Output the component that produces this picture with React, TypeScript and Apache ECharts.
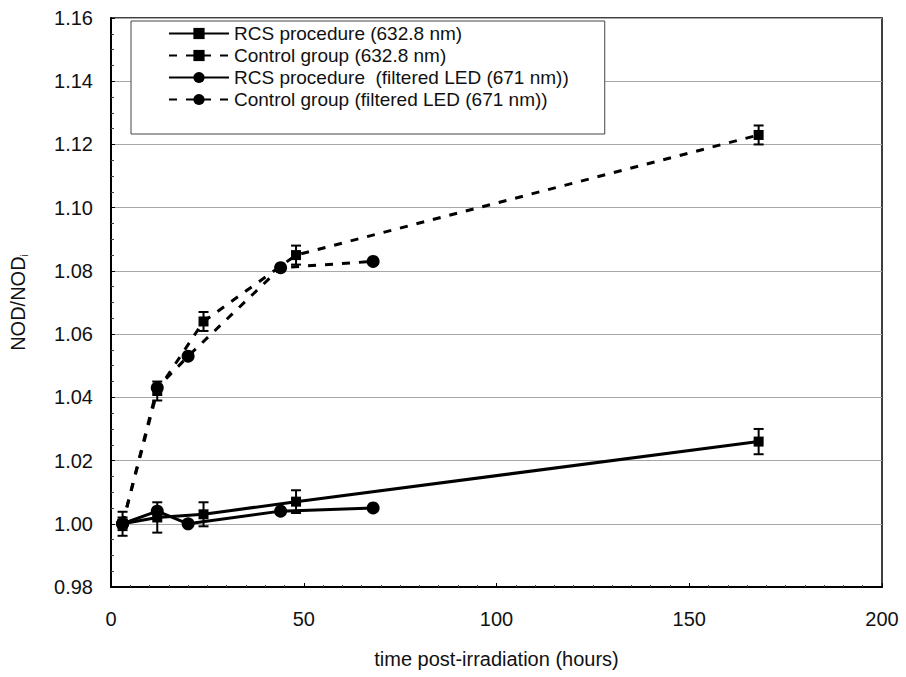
import React, { useEffect, useRef } from "react";
import * as echarts from "echarts";

// ---- data ----
const hours632 = [3, 12, 24, 48, 168];
const rcs632 = [1.0, 1.002, 1.003, 1.007, 1.026];
const rcs632Err = [0.0038, 0.0048, 0.0038, 0.0036, 0.004];
const ctrl632 = [1.0, 1.042, 1.064, 1.085, 1.123];
const ctrl632Err = [0.002, 0.003, 0.003, 0.003, 0.003];

const hoursLED = [3, 12, 20, 44, 68];
const rcsLED = [1.0, 1.004, 1.0, 1.004, 1.005];
const ctrlLED = [1.0, 1.043, 1.053, 1.081, 1.083];

const seriesNames = [
  "RCS procedure (632.8 nm)",
  "Control group (632.8 nm)",
  "RCS procedure  (filtered LED (671 nm))",
  "Control group (filtered LED (671 nm))",
];

const xTicks = { min: 0, max: 200, interval: 50 };
const yTicks = { min: 0.98, max: 1.16, interval: 0.02 };

const FONT = "'Liberation Sans', Arial, sans-serif";

function pairs(xs: number[], ys: number[]) {
  return xs.map((x, i) => [x, ys[i]]);
}
function errData(xs: number[], ys: number[], es: number[]) {
  return xs.map((x, i) => [x, ys[i] - es[i], ys[i] + es[i]]);
}

const errorRender = (params: any, api: any) => {
  const x = api.value(0);
  const lo = api.coord([x, api.value(1)]);
  const hi = api.coord([x, api.value(2)]);
  const w = 5;
  const st = { stroke: "#000", lineWidth: 2 };
  return {
    type: "group",
    children: [
      { type: "line", shape: { x1: lo[0], y1: lo[1], x2: hi[0], y2: hi[1] }, style: st },
      { type: "line", shape: { x1: lo[0] - w, y1: lo[1], x2: lo[0] + w, y2: lo[1] }, style: st },
      { type: "line", shape: { x1: hi[0] - w, y1: hi[1], x2: hi[0] + w, y2: hi[1] }, style: st },
    ],
  };
};

export default function App() {
  const ref = useRef<HTMLDivElement>(null);
  useEffect(() => {
    document.body.style.margin = "0";
    if (!ref.current) return;
    const chart = echarts.init(ref.current, undefined, { renderer: "svg" });
    const solid = { color: "#000", width: 3, type: "solid" as const };
    const dashed = { color: "#000", width: 3, type: [8, 9] as any };
    chart.setOption({
      animation: false,
      backgroundColor: "#fff",
      textStyle: { fontFamily: FONT, color: "#000" },
      grid: {
        left: 111,
        right: 24,
        top: 18,
        bottom: 90,
        show: true,
        borderColor: "#000",
        borderWidth: 1.5,
      },
      legend: {
        orient: "vertical",
        left: 131,
        top: 21,
        data: seriesNames,
        itemWidth: 60,
        itemHeight: 14,
        itemGap: 3,
        padding: [3, 36, 25, 37],
        borderColor: "#444",
        borderWidth: 1,
        backgroundColor: "#fff",
        textStyle: { fontFamily: FONT, fontSize: 19, color: "#111", lineHeight: 19 },
      },
      xAxis: {
        type: "value",
        min: xTicks.min,
        max: xTicks.max,
        interval: xTicks.interval,
        name: "time post-irradiation (hours)",
        nameLocation: "middle",
        nameGap: 62,
        nameTextStyle: { fontFamily: FONT, fontSize: 20, color: "#111" },
        axisLine: { lineStyle: { color: "#000", width: 2 } },
        axisTick: { inside: true, length: 4, lineStyle: { color: "#000" } },
        minorTick: { show: true, splitNumber: 10, length: 2, lineStyle: { color: "#444" } },
        axisLabel: { fontFamily: FONT, fontSize: 20, color: "#111", margin: 22 },
        splitLine: { show: false },
      },
      yAxis: {
        type: "value",
        min: yTicks.min,
        max: yTicks.max,
        interval: yTicks.interval,
        name: "NOD/NOD{s|i}",
        nameLocation: "middle",
        nameRotate: 90,
        nameGap: 82,
        nameTextStyle: {
          fontFamily: FONT,
          fontSize: 20,
          color: "#111",
          rich: { s: { fontSize: 10, fontFamily: FONT, color: "#111", padding: [12, 0, 0, 0] } },
        },
        axisLine: { show: true, lineStyle: { color: "#000", width: 2 } },
        axisTick: { show: true, inside: true, length: 4, lineStyle: { color: "#000" } },
        minorTick: { show: true, splitNumber: 4, length: 3, lineStyle: { color: "#444" } },
        axisLabel: {
          fontFamily: FONT,
          fontSize: 20,
          color: "#111",
          margin: 18,
          formatter: (v: number) => v.toFixed(2),
        },
        splitLine: { show: true, lineStyle: { color: "#a8a8a8", width: 1 } },
      },
      series: [
        {
          name: seriesNames[0],
          type: "line",
          data: pairs(hours632, rcs632),
          symbol: "rect",
          symbolSize: 10,
          itemStyle: { color: "#000" },
          lineStyle: solid,
          z: 3,
        },
        {
          name: seriesNames[1],
          type: "line",
          data: pairs(hours632, ctrl632),
          symbol: "rect",
          symbolSize: 10,
          itemStyle: { color: "#000" },
          lineStyle: dashed,
          z: 3,
        },
        {
          name: seriesNames[2],
          type: "line",
          data: pairs(hoursLED, rcsLED),
          symbol: "circle",
          symbolSize: 13,
          itemStyle: { color: "#000" },
          lineStyle: solid,
          z: 3,
        },
        {
          name: seriesNames[3],
          type: "line",
          data: pairs(hoursLED, ctrlLED),
          symbol: "circle",
          symbolSize: 13,
          itemStyle: { color: "#000" },
          lineStyle: dashed,
          z: 3,
        },
        {
          name: "err1",
          type: "custom",
          data: errData(hours632, rcs632, rcs632Err),
          encode: { x: 0, y: [1, 2] },
          renderItem: errorRender,
          z: 4,
        },
        {
          name: "err2",
          type: "custom",
          data: errData(hours632, ctrl632, ctrl632Err),
          encode: { x: 0, y: [1, 2] },
          renderItem: errorRender,
          z: 4,
        },
      ],
    });
    return () => chart.dispose();
  }, []);
  return <div ref={ref} style={{ width: 906, height: 677 }} />;
}
